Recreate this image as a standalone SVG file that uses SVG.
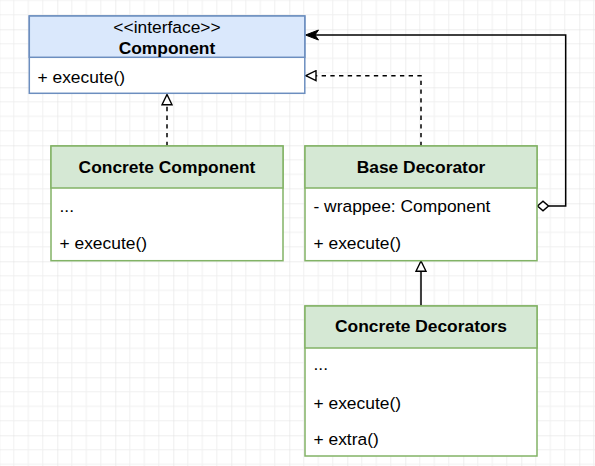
<svg xmlns="http://www.w3.org/2000/svg" width="595" height="466" viewBox="0 0 595 466">
<defs>
<pattern id="grid" x="-0.7" y="29.3" width="58" height="58" patternUnits="userSpaceOnUse">
<path d="M14.5 0V58M29 0V58M43.5 0V58M0 14.5H58M0 29H58M0 43.5H58" stroke="#f0f0f0" stroke-width="1" fill="none"/>
<path d="M0 0V58M0 0H58" stroke="#dedede" stroke-width="1" fill="none"/>
</pattern>
<marker id="tri" viewBox="0 0 12 12" refX="11.2" refY="6" markerWidth="12" markerHeight="12" markerUnits="userSpaceOnUse" orient="auto">
<path d="M1 1L11.2 6L1 11Z" fill="#fff" stroke="#000" stroke-width="1.4"/>
</marker>
</defs>
<style>
text{font-family:"Liberation Sans",Arial,sans-serif;font-size:17.4px;fill:#000}
.b{font-weight:bold}
.c{text-anchor:middle}
.blue{fill:#dae8fc;stroke:#6c8ebf;stroke-width:1.5}
.green{fill:#d5e8d4;stroke:#82b366;stroke-width:1.5}
.edge{fill:none;stroke:#000;stroke-width:1.5}
.dash{stroke-dasharray:4.35 4.35}
</style>
<rect width="595" height="466" fill="#fff"/>
<rect width="595" height="466" fill="url(#grid)"/>
<g id="connectors">
<path class="edge dash" d="M167 146V94.5" marker-end="url(#tri)"/>
<path class="edge dash" d="M421 146V75.7H305.8" marker-end="url(#tri)"/>
<path class="edge" d="M421 306V261" marker-end="url(#tri)"/>
<path class="edge" d="M548.5 206H565.7V35H315"/>
<path d="M305.5 35L318.5 30L315 35L318.5 40Z" fill="#000" stroke="#000" stroke-width="1"/>
<path d="M537.5 206L543 201.2L548.5 206L543 210.8Z" fill="#fff" stroke="#000" stroke-width="1.5"/>
</g>
<g id="component">
<rect class="blue" x="29.3" y="16" width="275.5" height="77.3" style="fill:#fff"/>
<rect class="blue" x="29.3" y="16" width="275.5" height="41.3"/>
<text class="c" x="167" y="32.5">&lt;&lt;interface&gt;&gt;</text>
<text class="c b" x="167" y="53.5">Component</text>
<text x="37.5" y="82.5">+ execute()</text>
</g>
<g id="concrete-component">
<rect class="green" x="51" y="146" width="232" height="114.7" style="fill:#fff"/>
<rect class="green" x="51" y="146" width="232" height="42"/>
<text class="c b" x="167" y="172.5">Concrete Component</text>
<text x="59.5" y="211.5">...</text>
<text x="59.5" y="249">+ execute()</text>
</g>
<g id="base-decorator">
<rect class="green" x="305" y="146" width="232" height="114.7" style="fill:#fff"/>
<rect class="green" x="305" y="146" width="232" height="42"/>
<text class="c b" x="421" y="172.5">Base Decorator</text>
<text x="313.5" y="211.5">- wrappee: Component</text>
<text x="313.5" y="249">+ execute()</text>
</g>
<g id="concrete-decorators">
<rect class="green" x="305" y="306" width="232" height="150" style="fill:#fff"/>
<rect class="green" x="305" y="306" width="232" height="42"/>
<text class="c b" x="421" y="332">Concrete Decorators</text>
<text x="313.5" y="370">...</text>
<text x="313.5" y="409">+ execute()</text>
<text x="313.5" y="445">+ extra()</text>
</g>
</svg>
